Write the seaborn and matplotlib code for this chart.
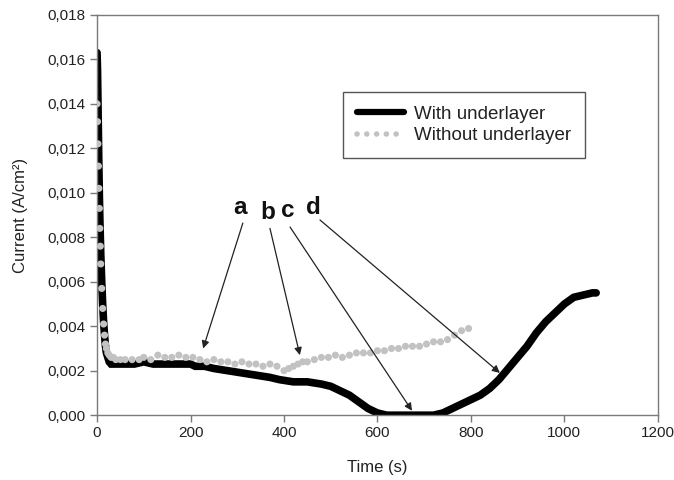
import matplotlib
matplotlib.use("Agg")
import matplotlib.pyplot as plt
from matplotlib.ticker import FuncFormatter, MultipleLocator
from matplotlib.lines import Line2D
import seaborn as sns
import pandas as pd

# Chronoamperometry: current density vs time
time_with = [0, 1, 2, 3, 4, 5, 6, 8, 10, 12, 14, 16, 18, 20, 23, 26, 30, 40, 60, 80,
             100, 120, 140, 160, 180, 200, 210, 230, 250, 280, 310, 340, 370, 390,
             420, 450, 480, 500, 520, 540, 560, 580, 600, 620, 660, 700, 720, 740,
             760, 780, 800, 820, 840, 860, 880, 900, 920, 940, 960, 980, 1000,
             1020, 1040, 1060, 1068]
current_with = [0.0163, 0.0155, 0.0140, 0.0125, 0.0110, 0.0098, 0.0088, 0.0072,
                0.0060, 0.0050, 0.0042, 0.0036, 0.0031, 0.0028, 0.0026, 0.0024,
                0.0023, 0.0023, 0.0023, 0.0023, 0.0024, 0.0023, 0.0023, 0.0023,
                0.0023, 0.0023, 0.0022, 0.0022, 0.0021, 0.0020, 0.0019, 0.0018,
                0.0017, 0.0016, 0.0015, 0.0015, 0.0014, 0.0013, 0.0011, 0.0009,
                0.0006, 0.0003, 0.0001, 0.0000, 0.0000, 0.0000, 0.0000, 0.0001,
                0.0003, 0.0005, 0.0007, 0.0009, 0.0012, 0.0016, 0.0021, 0.0026,
                0.0031, 0.0037, 0.0042, 0.0046, 0.0050, 0.0053, 0.0054, 0.0055,
                0.0055]

time_without = [0, 1, 2, 3, 4, 5, 6, 7, 8, 10, 12, 14, 16, 18, 20, 23, 26, 30, 35,
                40, 50, 60, 75, 90, 100, 115, 130, 145, 160, 175, 190, 205, 220,
                235, 250, 265, 280, 295, 310, 325, 340, 355, 370, 385, 400, 410,
                420, 430, 440, 450, 465, 480, 495, 510, 525, 540, 555, 570, 585,
                600, 615, 630, 645, 660, 675, 690, 705, 720, 735, 750, 765, 780,
                795]
current_without = [0.0140, 0.0132, 0.0122, 0.0112, 0.0102, 0.0093, 0.0084, 0.0076,
                   0.0068, 0.0057, 0.0048, 0.0041, 0.0036, 0.0032, 0.0030, 0.0028,
                   0.0027, 0.0026, 0.0026, 0.0025, 0.0025, 0.0025, 0.0025, 0.0025,
                   0.0026, 0.0025, 0.0027, 0.0026, 0.0026, 0.0027, 0.0026, 0.0026,
                   0.0025, 0.0024, 0.0025, 0.0024, 0.0024, 0.0023, 0.0024, 0.0023,
                   0.0023, 0.0022, 0.0023, 0.0022, 0.0020, 0.0021, 0.0022, 0.0023,
                   0.0024, 0.0024, 0.0025, 0.0026, 0.0026, 0.0027, 0.0026, 0.0027,
                   0.0028, 0.0028, 0.0028, 0.0029, 0.0029, 0.0030, 0.0030, 0.0031,
                   0.0031, 0.0031, 0.0032, 0.0033, 0.0033, 0.0034, 0.0036, 0.0038,
                   0.0039]

labels = ["With underlayer", "Without underlayer"]

# annotation letters: text position, arrow tail and arrow tip (data coordinates)
ann_letters = ["a", "b", "c", "d"]
ann_text_xy = [(306, 0.00935), (366, 0.00910), (409, 0.00920), (462, 0.00935)]
ann_tip_xy = [(227, 0.00300), (434, 0.00270), (674, 0.00020), (862, 0.00190)]
ann_tail_xy = [(312, 0.00864), (370, 0.00840), (413, 0.00846), (477, 0.00878)]

sns.set_style("white")
plt.rcParams["font.family"] = ["Liberation Sans", "DejaVu Sans"]

fig = plt.figure(figsize=(6.74, 4.80), dpi=100)
ax = fig.add_axes([0.144, 0.135, 0.832, 0.834])

df_with = pd.DataFrame({"t": time_with, "i": current_with})
df_without = pd.DataFrame({"t": time_without, "i": current_without})

sns.lineplot(data=df_with, x="t", y="i", ax=ax, color="black", linewidth=5.5,
             solid_joinstyle="miter", sort=False, zorder=2)
sns.scatterplot(data=df_without, x="t", y="i", ax=ax, color="#c2c2c2", s=26,
                edgecolor="none", zorder=3)

ax.set_xlim(0, 1200)
ax.set_ylim(0, 0.018)
ax.xaxis.set_major_locator(MultipleLocator(200))
ax.yaxis.set_major_locator(MultipleLocator(0.002))
ax.xaxis.set_major_formatter(FuncFormatter(lambda v, p: f"{v:.0f}"))
ax.yaxis.set_major_formatter(FuncFormatter(lambda v, p: f"{v:.3f}".replace(".", ",")))

for sp in ax.spines.values():
    sp.set_color("#7a7a7a")
    sp.set_linewidth(1.0)
ax.tick_params(axis="both", direction="out", length=5, width=1.0, color="#7a7a7a",
               labelsize=11, labelcolor="#222222", pad=3,
               bottom=True, left=True)

ax.set_xlabel("Time (s)", fontsize=12, color="#222222", labelpad=14)
ax.set_ylabel("Current (A/cm²)", fontsize=12, color="#222222", labelpad=14)

for letter, txy, tail, tip in zip(ann_letters, ann_text_xy, ann_tail_xy, ann_tip_xy):
    ax.text(txy[0], txy[1], letter, fontsize=17.5, fontweight="bold",
            ha="center", va="center", color="#111111")
    ax.annotate("", xy=tip, xytext=tail,
                arrowprops=dict(arrowstyle="-|>", color="#222222", lw=0.9,
                                mutation_scale=11, shrinkA=0, shrinkB=0))

handles = [
    Line2D([], [], color="black", linewidth=4.5, solid_capstyle="round"),
    Line2D([], [], color="#c2c2c2", linewidth=4.0, linestyle=(0, (0.01, 1.75)),
           dash_capstyle="round"),
]
leg = ax.legend(handles, labels, loc="upper left", bbox_to_anchor=(0.438, 0.808),
                frameon=True, fancybox=False, framealpha=1, fontsize=13.5,
                handlelength=2.5, handletextpad=0.55, borderpad=0.75,
                labelspacing=0.22, borderaxespad=0)
leg.get_frame().set_edgecolor("#555555")
leg.get_frame().set_linewidth(1.0)
for t in leg.get_texts():
    t.set_color("#222222")

fig.savefig("out.png", dpi=100)
